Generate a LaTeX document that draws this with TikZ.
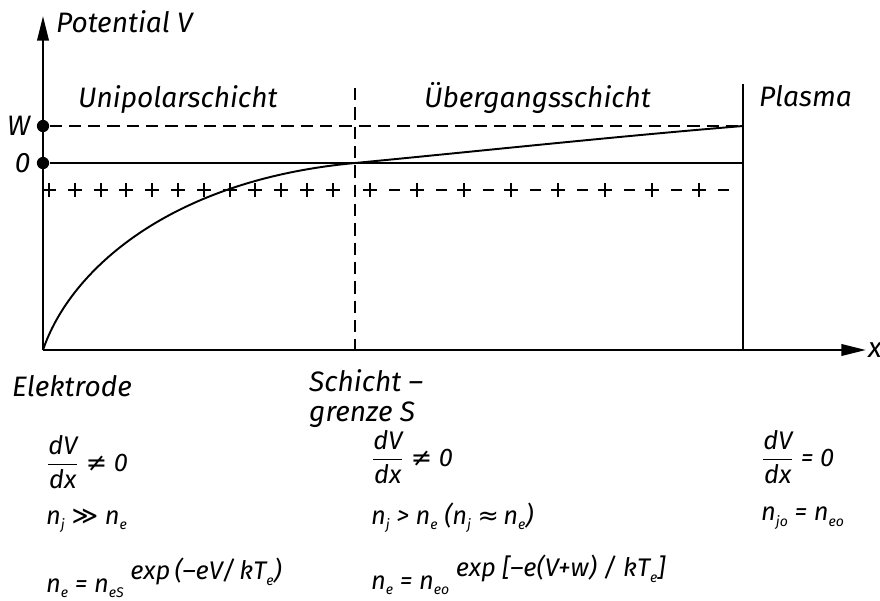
\documentclass[tikz,border=0pt]{standalone}
\usepackage{amsmath}
\usepackage{fontspec}
\setmainfont{Fira Sans}
\newfontfamily\symf{DejaVu Sans}
\usetikzlibrary{arrows.meta}
\newcommand\idx[2]{#1\raisebox{-0.4ex}{\footnotesize #2}}
\newcommand\dvdx{$\dfrac{\text{dV}}{\text{dx}}$}

\tikzset{
  axis/.style={line width=1.3pt,-{Triangle[length=14pt,width=6.5pt]}},
  lbl/.style={anchor=west,font=\fontsize{16}{19}\selectfont\itshape},
  frm/.style={anchor=west,font=\fontsize{14.5}{17}\selectfont\itshape},
  level/.style={line width=0.9pt},
  charge/.style={line width=1.1pt},
  dashline/.style={line width=0.9pt,dash pattern=on 7pt off 4pt},
  pdot/.style={circle,fill,inner sep=0pt,minimum size=7pt}
}

\begin{document}
\begin{tikzpicture}[x=0.02cm,y=-0.02cm]
  \useasboundingbox (0,0) rectangle (880,600);
  \coordinate (orig) at (43,350);
  \coordinate (ytip) at (43,16);
  \coordinate (xtip) at (866,350);
  \coordinate (stop) at (355,88);
  \coordinate (sbot) at (355,350);
  \coordinate (ptop) at (743,84);
  \coordinate (pbot) at (743,350);
  \coordinate (scross) at (355,163);
  \node[pdot] (w) at (43,126) {};
  \node[pdot] (o) at (43,163) {};
  \coordinate (wend) at (w -| ptop);
  \coordinate (oend) at (o -| ptop);

  \draw[axis] (orig) -- (ytip);
  \draw[axis] (orig) -- (xtip);
  \draw[dashline] (stop) -- (sbot);
  \draw[line width=1.1pt] (ptop) -- (pbot);
  \draw[dashline] (w) -- (wend);
  \draw[level] (o) -- (oend);

  % Raumladung
  \foreach \i in {0,...,11}
    \draw[charge] ({49+25.8*\i},183) -- +(0,14) ({42+25.8*\i},190) -- +(14,0);
  \foreach \i in {0,...,7}
    \draw[charge] ({370+47*\i},183) -- +(0,14) ({363+47*\i},190) -- +(14,0)
                  ({389+47*\i},190) -- +(11,0);

  % Potentialverlauf
  \draw[line width=1.1pt] (orig) .. controls (70,270) and (170,180) .. (scross)
    .. controls (480,151) and (620,136) .. (wend);

  \node[lbl] (potv) at (50,22) {Potential V};
  \node[lbl] (uni) at (72,100) {Unipolarschicht};
  \node[lbl] (ueb) at (418,98) {Übergangsschicht};
  \node[lbl] (plasma) at (753,96) {Plasma};
  \node[lbl,anchor=east] (wl) at (w.west) {W};
  \node[lbl,anchor=east] (ol) at (o.west) {0};
  \node[lbl,inner sep=1pt] (xl) at (xtip) {x};
  \node[lbl] (elek) at (6,386) {Elektrode};
  \node[lbl,align=left,anchor=north west,font=\fontsize{16}{17}\selectfont\itshape]
    (grenze) at (303,363) {Schicht –\\grenze S};

  \node[frm] (f11) at (40,462) {\dvdx\ {\symf ≠} 0};
  \node[frm] (f21) at (40,521) {\idx{n}{j} {\symf ≫} \idx{n}{e}};
  \node[frm] (f31) at (40,578) {\idx{n}{e} = \idx{n}{eS}
    \raisebox{0.9ex}{exp\,(–eV/\,k\idx{T}{e})}};

  \node[frm] (f12) at (365,457) {\dvdx\ {\symf ≠} 0};
  \node[frm] (f22) at (365,518) {\idx{n}{j} > \idx{n}{e} (\idx{n}{j} {\symf ≈}\,\idx{n}{e})};
  \node[frm] (f32) at (365,575) {\idx{n}{e} = \idx{n}{eo}
    \raisebox{0.9ex}{exp {\Large[}–e(V+w) / k\idx{T}{e}{\Large]}}};

  \node[frm] (f13) at (755,457) {\dvdx\ = 0};
  \node[frm] (f23) at (755,518) {\idx{n}{jo} = \idx{n}{eo}};
\end{tikzpicture}
\end{document}
